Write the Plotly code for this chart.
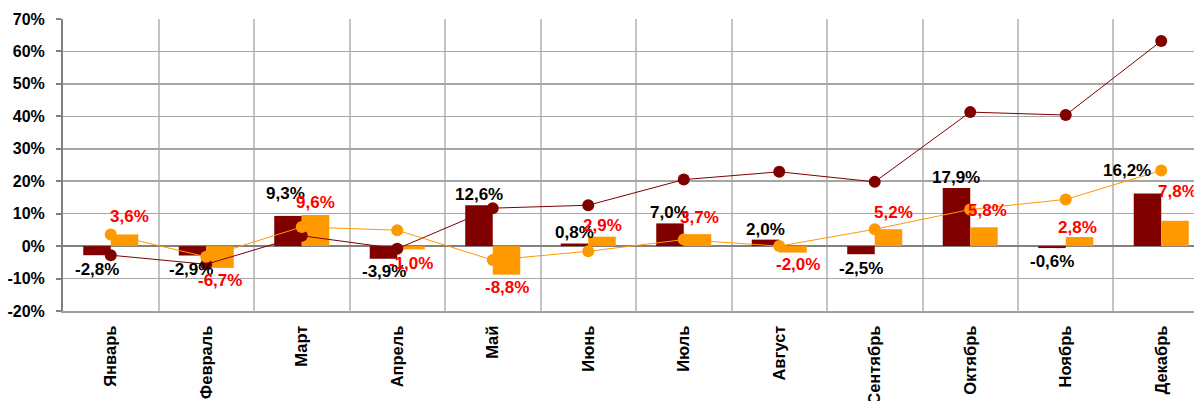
import plotly.graph_objects as go

months = ["Январь", "Февраль", "Март", "Апрель", "Май", "Июнь",
          "Июль", "Август", "Сентябрь", "Октябрь", "Ноябрь", "Декабрь"]
# monthly change, %
series_dark = [-2.8, -2.9, 9.3, -3.9, 12.6, 0.8, 7.0, 2.0, -2.5, 17.9, -0.6, 16.2]
series_orange = [3.6, -6.7, 9.6, -1.0, -8.8, 2.9, 3.7, -2.0, 5.2, 5.8, 2.8, 7.8]
# cumulative since start of year, %
cum_dark = [-2.8, -5.6, 3.2, -0.8, 11.7, 12.6, 20.5, 22.9, 19.8, 41.3, 40.4, 63.2]
cum_orange = [3.6, -3.3, 5.9, 4.9, -4.3, -1.6, 2.0, 0.0, 5.2, 11.3, 14.4, 23.3]
y_tick_vals = [-20, -10, 0, 10, 20, 30, 40, 50, 60, 70]
y_tick_text = ["-20%", "-10%", "0%", "10%", "20%", "30%", "40%", "50%", "60%", "70%"]

# label offsets (pixels) - style only
dark_dy = [-14, -14, 22, -13, 11, 11, 11, 10, -14, 11, -13, 23]
dark_dx = [0, -2, -3, 0, 0, 0, 0, 0, 0, 0, 0, -20]
orange_dy = [18, -13, 12, -14, -13, 11, 17, -12, 17, 17, 10, 29]
orange_dx = [5, 0, 0, 0, 0, 0, 2, 5, 5, 3, -2, 2]

DARK = "#800000"
ORANGE = "#FF9900"
FONT = "Liberation Sans, Arial, sans-serif"

x = list(range(len(months)))

def fmt(v):
    return f"{v:.1f}".replace(".", ",") + "%"

fig = go.Figure()
fig.add_trace(go.Bar(x=x, y=series_dark, marker=dict(color=DARK, line=dict(width=0)),
                     name="dark", showlegend=False))
fig.add_trace(go.Bar(x=x, y=series_orange, marker=dict(color=ORANGE, line=dict(width=0)),
                     name="orange", showlegend=False))
fig.add_trace(go.Scatter(x=x, y=cum_dark, mode="lines+markers",
                         line=dict(color=DARK, width=1),
                         marker=dict(color=DARK, size=12), showlegend=False))
fig.add_trace(go.Scatter(x=x, y=cum_orange, mode="lines+markers",
                         line=dict(color=ORANGE, width=1),
                         marker=dict(color=ORANGE, size=12), showlegend=False))

group = 0.576
half = group / 4
annotations = []
for i, v in enumerate(series_dark):
    annotations.append(dict(x=i - half, y=v, xref="x", yref="y", text=fmt(v),
                            showarrow=False, xanchor="center", yanchor="middle",
                            xshift=dark_dx[i], yshift=dark_dy[i],
                            font=dict(family=FONT, size=17, color="#000000", weight="bold")))
for i, v in enumerate(series_orange):
    annotations.append(dict(x=i + half, y=v, xref="x", yref="y", text=fmt(v),
                            showarrow=False, xanchor="center", yanchor="middle",
                            xshift=orange_dx[i], yshift=orange_dy[i],
                            font=dict(family=FONT, size=17, color="#FF0000", weight="bold")))

fig.update_layout(
    width=1194, height=401,
    margin=dict(l=63, r=0, t=19, b=90, pad=0, autoexpand=False),
    paper_bgcolor="white", plot_bgcolor="white",
    barmode="group", bargap=1 - group, bargroupgap=0,
    annotations=annotations,
    font=dict(family=FONT, color="#000000"),
    hovermode=False,
)
fig.update_xaxes(
    range=[-0.5, 11.343], automargin=False,
    tickmode="array", tickvals=x, ticktext=months, tickangle=-90,
    tickfont=dict(family=FONT, size=16.5, color="#000000", weight="bold"),
    showgrid=False, zeroline=False, showline=True, linecolor="#a0a0a0", linewidth=2,
    ticks="", ticklabelstandoff=6,
    minor=dict(tick0=-0.5, dtick=1, showgrid=True, gridcolor="#c4c4c4", gridwidth=2, ticks=""),
)
fig.update_yaxes(
    range=[-20, 70], automargin=False,
    tickmode="array", tickvals=y_tick_vals, ticktext=y_tick_text,
    tickfont=dict(family=FONT, size=16, color="#000000", weight="bold"),
    showgrid=True, gridcolor="#a6a6a6", gridwidth=1.5,
    zeroline=True, zerolinecolor="#808080", zerolinewidth=2,
    showline=True, linecolor="#808080", linewidth=2,
    ticks="outside", ticklen=5, tickcolor="#808080", tickwidth=2,
    ticklabelstandoff=8,
)

fig.write_html(
    "out.html",
    config=dict(displayModeBar=False, staticPlot=True),
    post_script="document.body.style.margin='0';document.body.style.overflow='hidden';",
)
